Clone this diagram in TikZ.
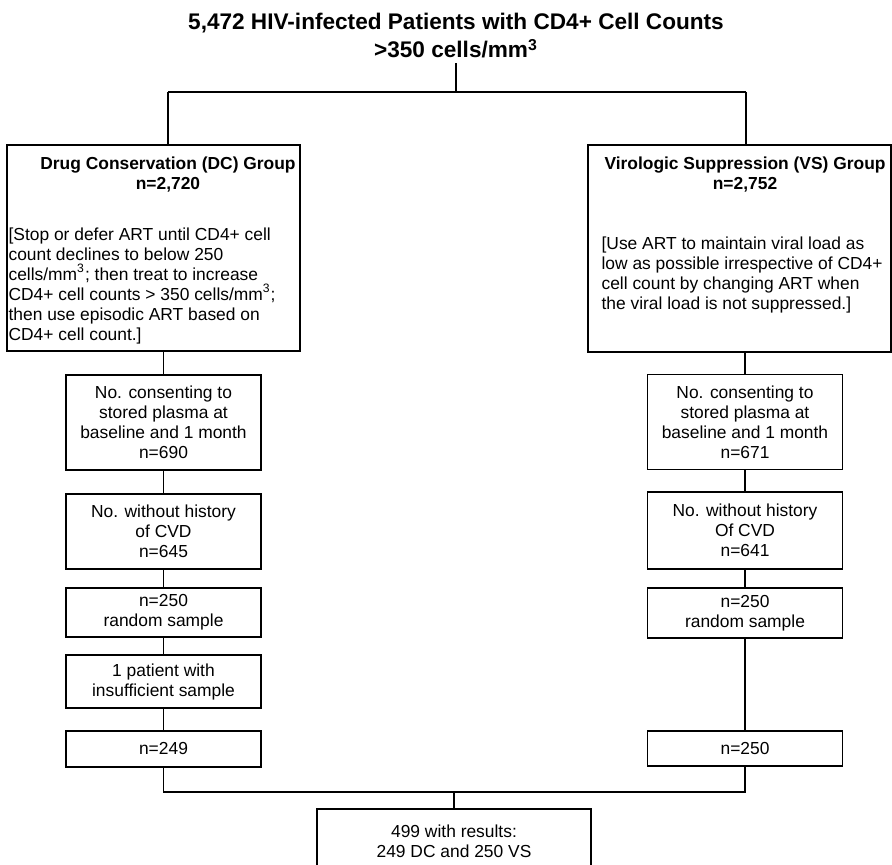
\documentclass[tikz,border=0pt]{standalone}
\usepackage{fontspec}
\setmainfont{Liberation Sans}
\usetikzlibrary{positioning, calc}

\begin{document}
\begin{tikzpicture}[x=0.5pt, y=-0.5pt, line width=0.6pt,
        every node/.style={font=\fontsize{8.7}{10}\selectfont},
        box/.style={draw, line width=0.6pt, inner sep=0pt, align=center},
        colbox/.style={box, minimum width=97.5pt},
        head/.style={align=center, inner sep=0pt, font=\bfseries\fontsize{8.7}{10}\selectfont},
        plan/.style={align=left, inner sep=0pt, anchor=north west}]
        \useasboundingbox (0,0) rectangle (892,865);

        \node[align=center, inner sep=2pt, font=\bfseries\fontsize{11.3}{14}\selectfont] (title) at (456,36) {5,472 HIV-infected Patients with CD4+ Cell Counts\\>350 cells/mm\textsuperscript{3}};
        \coordinate (busL) at (168,92);
        \coordinate (busR) at (746,92);

        % the two arms
        \node[box, minimum width=146.5pt, minimum height=103pt] (dc) at (153.5,248) {};
        \node[head] (dchead) at (168,175) {Drug Conservation (DC) Group\\n=2,720};
        \node[plan] (dcplan) at (8,227) {[Stop or defer ART until CD4+ cell\\count declines to below 250\\cells/mm\textsuperscript{3}; then treat to increase\\CD4+ cell counts > 350 cells/mm\textsuperscript{3};\\then use episodic ART based on\\CD4+ cell count.]};

        \node[box, minimum width=151.5pt, minimum height=103.5pt] (vs) at (739.5,248.5) {};
        \node[head] (vshead) at (745,175) {Virologic Suppression (VS) Group\\n=2,752};
        \node[plan] (vsplan) at (601,236) {[Use ART to maintain viral load as\\low as possible irrespective of CD4+\\cell count by changing ART when\\the viral load is not suppressed.]};

        % DC column
        \node[colbox, minimum height=47.5pt] (dc1) at (163.5,422.5) {No. consenting to\\stored plasma at\\baseline and 1 month\\n=690};
        \node[colbox, minimum height=37.5pt] (dc2) at (163.5,531.5) {No. without history\\of CVD\\n=645};
        \node[colbox, minimum height=24.5pt] (dc3) at (163.5,612.5) {n=250\\random sample};
        \node[colbox, minimum height=26.5pt] (dc4) at (163.5,681.5) {1 patient with\\insufficient sample};
        \node[colbox, minimum height=18pt] (dc5) at (163.5,749) {n=249};

        % VS column
        \node[colbox, minimum height=47.5pt] (vs1) at (745,422) {No. consenting to\\stored plasma at\\baseline and 1 month\\n=671};
        \node[colbox, minimum height=38.5pt] (vs2) at (745,530.5) {No. without history\\Of CVD\\n=641};
        \node[colbox, minimum height=25pt] (vs3) at (745,613) {n=250\\random sample};
        \node[colbox, minimum height=17.5pt] (vs5) at (745,748.5) {n=250};

        \node[box, minimum width=137pt, minimum height=32.5pt] (res) at (454,841.5) {499 with results:\\249 DC and 250 VS};
        \coordinate (join) at (454,792);

        \draw (title.south) -- (title.south |- busL);
        \draw (busL) -- (busR);
        \draw (busL) -- (busL |- dc.north);
        \draw (busR) -- (busR |- vs.north);

        \draw (dc1.north |- dc.south) -- (dc1.north);
        \draw (dc1.south) -- (dc2.north);
        \draw (dc2.south) -- (dc3.north);
        \draw (dc3.south) -- (dc4.north);
        \draw (dc4.south) -- (dc5.north);

        \draw (vs1.north |- vs.south) -- (vs1.north);
        \draw (vs1.south) -- (vs2.north);
        \draw (vs2.south) -- (vs3.north);
        \draw (vs3.south) -- (vs5.north);

        \draw (dc5.south) |- (join);
        \draw (vs5.south) |- (join);
        \draw (join) -- (res.north);
      \end{tikzpicture}
\end{document}
